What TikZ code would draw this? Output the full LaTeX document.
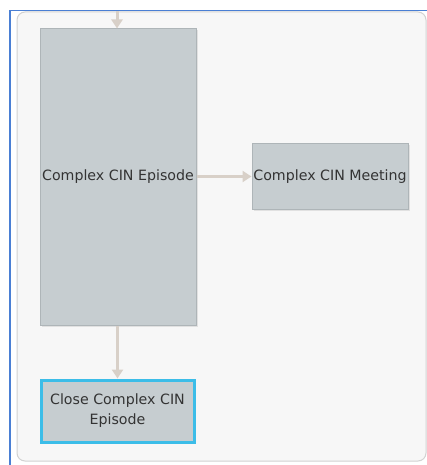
\documentclass[tikz,border=0pt]{standalone}
\usepackage{fontspec}
\setmainfont{DejaVu Sans}
\usepackage{xcolor}
\usetikzlibrary{arrows.meta,positioning,shadows}

\definecolor{panelbg}{HTML}{F7F7F7}
\definecolor{panelline}{HTML}{D2D2D2}
\definecolor{frameblue}{HTML}{4A7FD4}
\definecolor{boxfill}{HTML}{C6CDD0}
\definecolor{boxline}{HTML}{AEB5B8}
\definecolor{flowline}{HTML}{D8D0C8}
\definecolor{selcyan}{HTML}{3CBDE8}
\definecolor{txt}{HTML}{333333}

\begin{document}
\begin{tikzpicture}[
  x=1pt, y=-1pt,
  task/.style={draw=boxline, line width=1pt, fill=boxfill, align=center, text=txt,
    font=\fontsize{14.2}{20}\selectfont, inner sep=0pt,
    drop shadow={opacity=0.18, shadow xshift=1.5pt, shadow yshift=-1.5pt}},
  selected/.style={draw=selcyan, line width=3pt},
  flow/.style={-{Triangle[length=9pt, width=11pt]}, line width=3pt, draw=flowline}
]
\useasboundingbox (0,0) rectangle (427,465);

% Frame and panel
\fill[white] (0,0) rectangle (427,465);
\draw[frameblue, line width=1.5pt] (10,465) -- (10,10.5) -- (427,10.5);
\draw[panelline, fill=panelbg, line width=1pt, rounded corners=8pt] (17,12) rectangle (426,461);

% Tasks
\node[task, minimum width=156pt, minimum height=296pt] (episode) at (118,177) {Complex CIN Episode};
\node[task, minimum width=156pt, minimum height=65pt] (meeting) at (330,176.5) {Complex CIN Meeting};
\node[task, selected, minimum width=153pt, minimum height=62pt] (close) at (117.5,411) {Close Complex CIN\\Episode};

% Connections
\coordinate (entry) at (117,11);
\draw[flow] (entry) -- (episode.north -| entry);
\draw[flow] (episode.east |- meeting) -- (meeting.west);
\draw[flow] (episode.south -| close) -- (close.north);

\end{tikzpicture}
\end{document}
